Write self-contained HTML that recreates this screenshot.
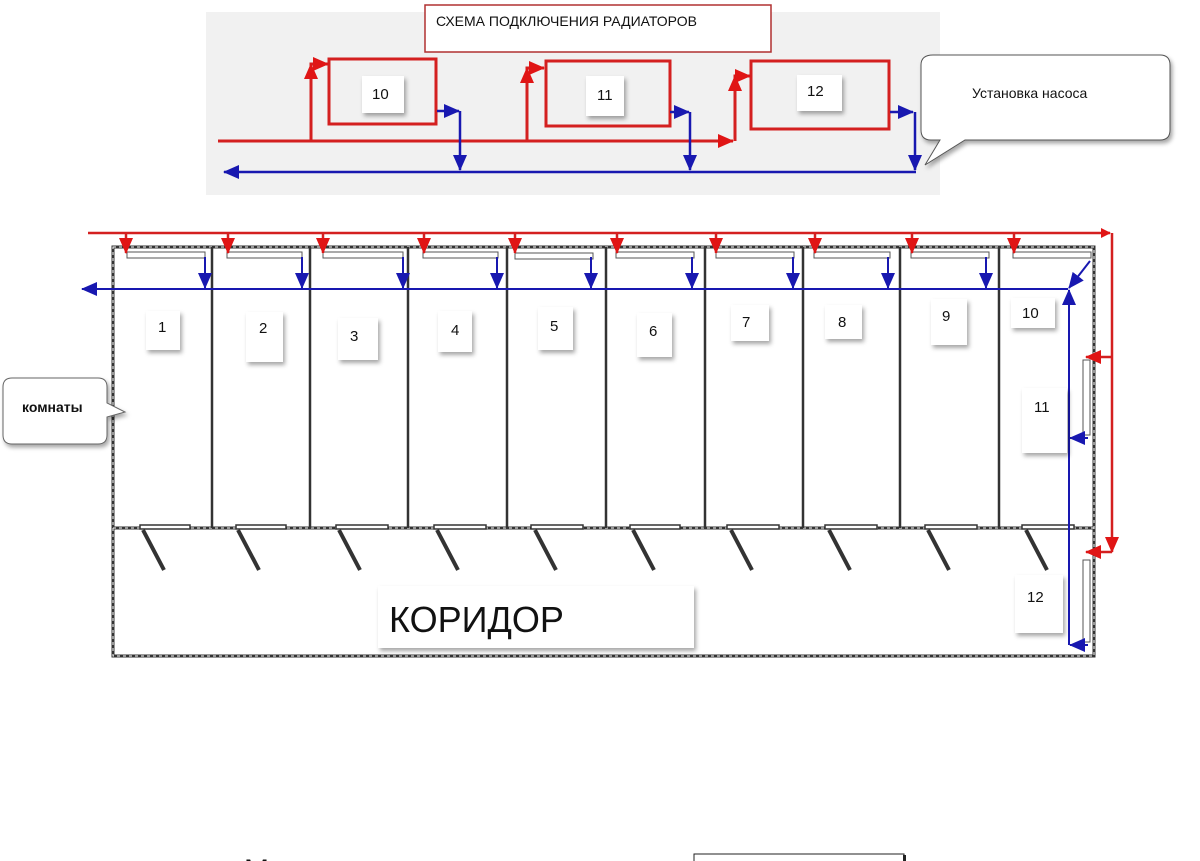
<!DOCTYPE html>
<html><head><meta charset="utf-8"><style>
html,body{margin:0;padding:0;background:#fff;}
svg{display:block;font-family:"Liberation Sans","DejaVu Sans",sans-serif;}
</style></head><body>
<svg width="1200" height="861" viewBox="0 0 1200 861" xmlns="http://www.w3.org/2000/svg">
<defs>
<marker id="ar" markerWidth="10" markerHeight="10" refX="9" refY="5" orient="auto" markerUnits="userSpaceOnUse"><path d="M0,0 L10,5 L0,10 z" fill="#e01515"/></marker>
<marker id="arL" markerWidth="16" markerHeight="14" refX="15" refY="7" orient="auto" markerUnits="userSpaceOnUse"><path d="M0,0 L16,7 L0,14 z" fill="#e01515"/></marker>
<marker id="abL" markerWidth="16" markerHeight="14" refX="15" refY="7" orient="auto" markerUnits="userSpaceOnUse"><path d="M0,0 L16,7 L0,14 z" fill="#1818b0"/></marker>
<filter id="sh" x="-20%" y="-20%" width="140%" height="140%"><feDropShadow dx="2" dy="3" stdDeviation="2" flood-color="#000" flood-opacity="0.35"/></filter>
</defs>

<rect x="206" y="12" width="734" height="183" fill="#f1f1f1"/>
<rect x="425" y="5" width="346" height="47" fill="#fff" stroke="#b03030" stroke-width="1.5"/>
<text x="436" y="26" font-size="14" fill="#111">СХЕМА ПОДКЛЮЧЕНИЯ РАДИАТОРОВ</text>

<g fill="none" stroke="#d42020" stroke-width="3">
<rect x="329" y="59" width="107" height="65"/>
<rect x="546" y="61" width="124" height="65"/>
<rect x="751" y="61" width="138" height="68"/>
</g>
<g fill="#fff" filter="url(#sh)">
<rect x="362" y="76" width="42" height="37"/>
<rect x="586" y="76" width="38" height="40"/>
<rect x="797" y="75" width="45" height="36"/>
</g>
<g font-size="15" fill="#111">
<text x="372" y="99">10</text><text x="597" y="100">11</text><text x="807" y="96">12</text>
</g>
<g fill="none" stroke="#d42020" stroke-width="3">
<line x1="218" y1="141" x2="733" y2="141" marker-end="url(#arL)"/>
<polyline points="311,141 311,64 328,64" marker-end="url(#arL)"/>
<polyline points="311,141 311,64" marker-end="url(#arL)"/>
<polyline points="527,141 527,68 544,68" marker-end="url(#arL)"/>
<polyline points="527,141 527,68" marker-end="url(#arL)"/>
<polyline points="735,141 735,76 750,76" marker-end="url(#arL)"/>
<polyline points="735,141 735,76" marker-end="url(#arL)"/>
</g>
<g fill="none" stroke="#1818b0" stroke-width="2.5">
<line x1="916" y1="172" x2="224" y2="172" marker-end="url(#abL)"/>
<line x1="437" y1="111" x2="459" y2="111" marker-end="url(#abL)"/>
<line x1="460" y1="111" x2="460" y2="170" marker-end="url(#abL)"/>
<line x1="670" y1="112" x2="689" y2="112" marker-end="url(#abL)"/>
<line x1="690" y1="112" x2="690" y2="170" marker-end="url(#abL)"/>
<line x1="890" y1="112" x2="913" y2="112" marker-end="url(#abL)"/>
<line x1="915" y1="112" x2="915" y2="170" marker-end="url(#abL)"/>
</g>
<path d="M933,55 H1160 Q1170,55 1170,65 V130 Q1170,140 1160,140 H965 L925,165 L940,140 H931 Q921,140 921,130 V65 Q921,55 933,55 z" fill="#fff" stroke="#555" stroke-width="1" filter="url(#sh)"/>
<text x="972" y="98" font-size="14" fill="#111">Установка насоса</text>

<g fill="none" stroke="#333" stroke-width="3">
<rect x="113" y="247" width="981" height="409"/>
<line x1="113" y1="528" x2="1094" y2="528"/>
</g>
<g fill="none" stroke="#fff" stroke-width="1" stroke-dasharray="3,3">
<rect x="113" y="247" width="981" height="409"/>
<line x1="113" y1="528" x2="1094" y2="528"/>
</g>
<g stroke="#333" stroke-width="2.5">
<line x1="212" y1="247" x2="212" y2="528"/><line x1="310" y1="247" x2="310" y2="528"/>
<line x1="408" y1="247" x2="408" y2="528"/><line x1="507" y1="247" x2="507" y2="528"/>
<line x1="606" y1="247" x2="606" y2="528"/><line x1="705" y1="247" x2="705" y2="528"/>
<line x1="803" y1="247" x2="803" y2="528"/><line x1="900" y1="247" x2="900" y2="528"/>
<line x1="999" y1="247" x2="999" y2="528"/>
</g>
<g fill="#fff" stroke="#555" stroke-width="1">
<rect x="127" y="252" width="78" height="6"/><rect x="227" y="252" width="75" height="6"/>
<rect x="323" y="252" width="80" height="6"/><rect x="423" y="252" width="75" height="6"/>
<rect x="515" y="253" width="78" height="6"/><rect x="616" y="252" width="78" height="6"/>
<rect x="716" y="252" width="78" height="6"/><rect x="814" y="252" width="76" height="6"/>
<rect x="911" y="252" width="78" height="6"/><rect x="1013" y="252" width="78" height="6"/>
<rect x="1083" y="360" width="7" height="75"/><rect x="1083" y="560" width="7" height="82"/>
</g>
<g stroke="#333" stroke-width="1.5" fill="#fff">
<rect x="140" y="525" width="50" height="4"/><rect x="236" y="525" width="50" height="4"/>
<rect x="336" y="525" width="52" height="4"/><rect x="434" y="525" width="52" height="4"/>
<rect x="531" y="525" width="52" height="4"/><rect x="630" y="525" width="50" height="4"/>
<rect x="727" y="525" width="52" height="4"/><rect x="825" y="525" width="52" height="4"/>
<rect x="925" y="525" width="52" height="4"/><rect x="1022" y="525" width="52" height="4"/>
</g>
<g stroke="#333" stroke-width="4">
<line x1="143" y1="530" x2="164" y2="570"/><line x1="238" y1="530" x2="259" y2="570"/>
<line x1="339" y1="530" x2="360" y2="570"/><line x1="437" y1="530" x2="458" y2="570"/>
<line x1="535" y1="530" x2="556" y2="570"/><line x1="633" y1="530" x2="654" y2="570"/>
<line x1="731" y1="530" x2="752" y2="570"/><line x1="829" y1="530" x2="850" y2="570"/>
<line x1="928" y1="530" x2="949" y2="570"/><line x1="1026" y1="530" x2="1047" y2="570"/>
</g>

<g fill="none" stroke="#d42020" stroke-width="2.5">
<line x1="88" y1="233" x2="1110" y2="233" marker-end="url(#ar)"/>
<line x1="1112" y1="233" x2="1112" y2="552" marker-end="url(#arL)"/>
<line x1="1112" y1="357" x2="1086" y2="357" marker-end="url(#arL)"/>
<line x1="1112" y1="552" x2="1086" y2="552" marker-end="url(#arL)"/>
<line x1="126" y1="233" x2="126" y2="253" marker-end="url(#arL)"/>
<line x1="228" y1="233" x2="228" y2="253" marker-end="url(#arL)"/>
<line x1="323" y1="233" x2="323" y2="253" marker-end="url(#arL)"/>
<line x1="424" y1="233" x2="424" y2="253" marker-end="url(#arL)"/>
<line x1="515" y1="233" x2="515" y2="253" marker-end="url(#arL)"/>
<line x1="617" y1="233" x2="617" y2="253" marker-end="url(#arL)"/>
<line x1="716" y1="233" x2="716" y2="253" marker-end="url(#arL)"/>
<line x1="815" y1="233" x2="815" y2="253" marker-end="url(#arL)"/>
<line x1="912" y1="233" x2="912" y2="253" marker-end="url(#arL)"/>
<line x1="1014" y1="233" x2="1014" y2="253" marker-end="url(#arL)"/>
</g>
<g fill="none" stroke="#1818b0" stroke-width="2">
<line x1="1068" y1="289" x2="82" y2="289" marker-end="url(#abL)"/>
<line x1="205" y1="257" x2="205" y2="288" marker-end="url(#abL)"/>
<line x1="302" y1="257" x2="302" y2="288" marker-end="url(#abL)"/>
<line x1="403" y1="257" x2="403" y2="288" marker-end="url(#abL)"/>
<line x1="497" y1="257" x2="497" y2="288" marker-end="url(#abL)"/>
<line x1="591" y1="257" x2="591" y2="288" marker-end="url(#abL)"/>
<line x1="692" y1="257" x2="692" y2="288" marker-end="url(#abL)"/>
<line x1="793" y1="257" x2="793" y2="288" marker-end="url(#abL)"/>
<line x1="888" y1="257" x2="888" y2="288" marker-end="url(#abL)"/>
<line x1="986" y1="257" x2="986" y2="288" marker-end="url(#abL)"/>
<line x1="1090" y1="261" x2="1069" y2="288" marker-end="url(#abL)"/>
<line x1="1069" y1="645" x2="1069" y2="290" marker-end="url(#abL)"/>
<line x1="1088" y1="438" x2="1070" y2="438" marker-end="url(#abL)"/>
<line x1="1088" y1="645" x2="1070" y2="645" marker-end="url(#abL)"/>
</g>

<g fill="#fff" filter="url(#sh)">
<rect x="146" y="311" width="34" height="39"/><rect x="246" y="312" width="37" height="50"/>
<rect x="338" y="318" width="40" height="42"/><rect x="438" y="311" width="34" height="41"/>
<rect x="538" y="307" width="35" height="43"/><rect x="637" y="313" width="35" height="44"/>
<rect x="731" y="305" width="38" height="36"/><rect x="825" y="305" width="37" height="34"/>
<rect x="931" y="299" width="36" height="46"/><rect x="1011" y="298" width="44" height="30"/>
<rect x="1022" y="388" width="45" height="65"/><rect x="1015" y="575" width="48" height="58"/>
</g>
<g font-size="15" fill="#111">
<text x="158" y="332">1</text><text x="259" y="333">2</text><text x="350" y="341">3</text>
<text x="451" y="335">4</text><text x="550" y="331">5</text><text x="649" y="336">6</text>
<text x="742" y="327">7</text><text x="838" y="327">8</text><text x="942" y="321">9</text>
<text x="1022" y="318">10</text><text x="1034" y="412">11</text><text x="1027" y="602">12</text>
</g>

<path d="M12,378 H98 Q107,378 107,387 V403 L125,412 L107,417 V435 Q107,444 98,444 H12 Q3,444 3,435 V387 Q3,378 12,378 z" fill="#fff" stroke="#666" stroke-width="1" filter="url(#sh)"/>
<text x="22" y="412" font-size="14" font-weight="bold" fill="#111">комнаты</text>

<rect x="378" y="586" width="316" height="62" fill="#fff" filter="url(#sh)"/>
<text x="389" y="632" font-size="36" fill="#111">КОРИДОР</text>

<text x="244" y="880" font-size="30" fill="#111">М</text>
<rect x="694" y="854" width="210" height="20" fill="#fff" stroke="#222" stroke-width="1"/>
<rect x="903" y="855" width="3" height="6" fill="#222"/>
</svg>
</body></html>
